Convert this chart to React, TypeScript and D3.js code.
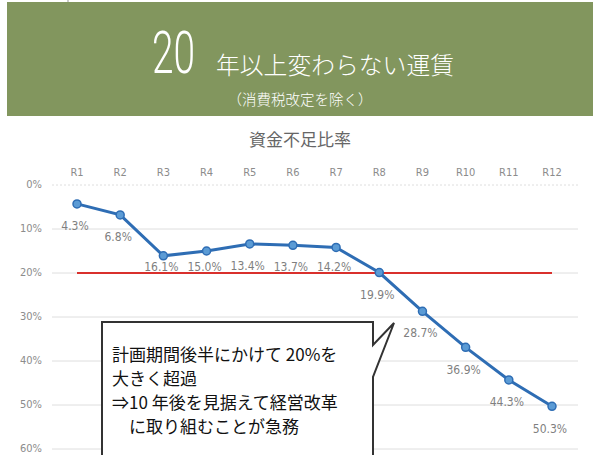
import React from 'react';
import * as d3 from 'd3';

const categories = ['R1', 'R2', 'R3', 'R4', 'R5', 'R6', 'R7', 'R8', 'R9', 'R10', 'R11', 'R12'];
const shortfall = [4.3, 6.8, 16.1, 15.0, 13.4, 13.7, 14.2, 19.9, 28.7, 36.9, 44.3, 50.3];
const yTicks = [0, 10, 20, 30, 40, 50, 60];
const threshold = 20;
const noteLines = [
  '計画期間後半にかけて 20%を',
  '大きく超過',
  '⇒10 年後を見据えて経営改革',
  '\u3000に取り組むことが急務',
];

const W = 593;
const H = 455;
const jp = '"Noto Sans CJK JP", sans-serif';
const narrow = '"DejaVu Sans Condensed", "Liberation Sans Narrow", sans-serif';

const App = () => {
  const x = d3.scalePoint<string>().domain(categories).range([77, 552]);
  const y = d3.scaleLinear().domain([0, 60]).range([185, 449]);

  const line = d3
    .line<number>()
    .x((_, i) => x(categories[i]) as number)
    .y(d => y(d));

  const lineY = y(threshold);

  // labels sit under each point, but never drop across the red line
  const labelY = (v: number) => {
    const py = y(v);
    if (py < lineY - 8 && py + 22 > lineY - 6) return lineY - 6;
    return py + 22;
  };

  return (
    <svg
      width={W}
      height={H}
      viewBox={`0 0 ${W} ${H}`}
      style={{ position: 'absolute', left: 0, top: 0, background: '#fff' }}
    >
      <line x1={68} x2={68} y1={0} y2={2} stroke="#999" />
      <rect x={7} y={2} width={W - 7} height={114} fill="#82965e" />
      <text
        x={152}
        y={73}
        fill="#fff"
        fontFamily="Roboto, sans-serif"
        fontSize={60}
        fontWeight={300}
        textLength={43}
        lengthAdjust="spacingAndGlyphs"
      >
        20
      </text>
      <text
        x={216}
        y={74}
        fill="#fff"
        fontFamily={jp}
        fontSize={24}
        fontWeight={300}
        textLength={238}
        lengthAdjust="spacingAndGlyphs"
      >
        年以上変わらない運賃
      </text>
      <text
        x={300}
        y={105}
        fill="#fff"
        fontFamily={jp}
        fontSize={14.5}
        fontWeight={300}
        textAnchor="middle"
      >
        （消費税改定を除く）
      </text>

      <text
        x={300}
        y={146}
        fill="#666"
        fontFamily={jp}
        fontSize={17}
        textAnchor="middle"
      >
        資金不足比率
      </text>

      <g className="grid">
        {yTicks.map(t => (
          <g key={t}>
            <line
              x1={52}
              x2={578}
              y1={y(t)}
              y2={y(t)}
              stroke="#dedede"
              strokeWidth={1}
              strokeDasharray={t === 0 ? '2 2' : undefined}
            />
            <text
              x={42}
              y={y(t)}
              dy="0.3em"
              textAnchor="end"
              fill="#8c8c8c"
              fontFamily={narrow}
              fontSize={11}
            >
              {`${t}%`}
            </text>
          </g>
        ))}
      </g>

      <g className="categories">
        {categories.map(c => (
          <text
            key={c}
            x={x(c)}
            y={172}
            dy="0.35em"
            textAnchor="middle"
            fill="#8c8c8c"
            fontFamily={narrow}
            fontSize={11}
          >
            {c}
          </text>
        ))}
      </g>

      <line
        x1={x(categories[0])}
        x2={x(categories[categories.length - 1])}
        y1={lineY}
        y2={lineY}
        stroke="#d9302c"
        strokeWidth={2}
      />

      <path d={line(shortfall) || ''} fill="none" stroke="#2e6db4" strokeWidth={3} />
      {shortfall.map((v, i) => (
        <circle
          key={i}
          cx={x(categories[i])}
          cy={y(v)}
          r={4}
          fill="#5b9bd5"
          stroke="#2e6db4"
          strokeWidth={1.5}
        />
      ))}
      {shortfall.map((v, i) => (
        <text
          key={i}
          x={(x(categories[i]) as number) - 2}
          y={labelY(v)}
          dy="0.35em"
          textAnchor="middle"
          fill="#7f7f7f"
          fontFamily={narrow}
          fontSize={12}
        >
          {`${v.toFixed(1)}%`}
        </text>
      ))}

      <path
        d="M102,456 L102,322 L373,322 L373,345 L394,323 L373,377 L373,456"
        fill="#fff"
        stroke="#333"
        strokeWidth={2}
        strokeLinejoin="miter"
      />
      {noteLines.map((s, i) => (
        <text
          key={i}
          x={112}
          y={361 + i * 24}
          fill="#111"
          fontFamily={jp}
          fontSize={17}
        >
          {s}
        </text>
      ))}
    </svg>
  );
};

export default App;
